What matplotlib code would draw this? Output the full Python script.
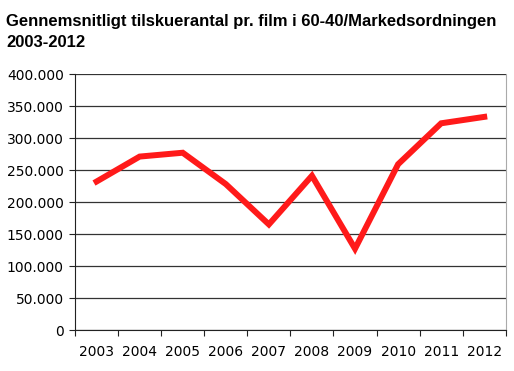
import matplotlib.pyplot as plt
from matplotlib.ticker import FuncFormatter, FixedLocator

years = ['2003', '2004', '2005', '2006', '2007', '2008', '2009', '2010', '2011', '2012']
viewers = [232000, 271000, 277000, 228000, 165000, 241000, 127000, 259000, 323000, 333000]
title = 'Gennemsnitligt tilskuerantal pr. film i 60-40/Markedsordningen\n2003-2012'

fig = plt.figure(figsize=(5.14, 3.71), dpi=100)
ax = fig.add_axes([0.146, 0.1105, 0.838, 0.69])

x = list(range(len(years)))
ax.plot(x, viewers, color='#ff1a1a', linewidth=4.3, solid_joinstyle='miter', zorder=3)

ax.set_xlim(-0.5, len(years) - 0.5)
ax.set_ylim(0, 400000)
ax.set_yticks(range(0, 400001, 50000))
ax.yaxis.set_major_formatter(FuncFormatter(lambda v, p: f'{int(v):,}'.replace(',', '.')))
ax.grid(axis='y', color='#333333', linewidth=0.9)

# ticks between categories, labels centered
ax.xaxis.set_major_locator(FixedLocator([i - 0.5 for i in range(len(years) + 1)]))
ax.xaxis.set_minor_locator(FixedLocator(x))
ax.set_xticklabels([])
ax.set_xticklabels(years, minor=True)
ax.tick_params(axis='x', which='minor', length=0, pad=11, labelsize=10)
ax.tick_params(axis='x', which='major', length=4, direction='out', color='#222222')
ax.tick_params(axis='y', length=4, direction='out', labelsize=10, pad=4, color='#222222')

for lab in ax.get_xticklabels(minor=True) + ax.get_yticklabels():
    lab.set_family('DejaVu Sans')

ax.spines['top'].set_visible(False)
ax.spines['left'].set_color('#222222')
ax.spines['bottom'].set_color('#222222')
ax.spines['right'].set_color('#aaaaaa')

fig.text(0.012, 0.963, title, ha='left', va='top', fontsize=12, fontweight='bold',
         family='Liberation Sans', linespacing=1.5)

fig.savefig('out.png', dpi=100)
